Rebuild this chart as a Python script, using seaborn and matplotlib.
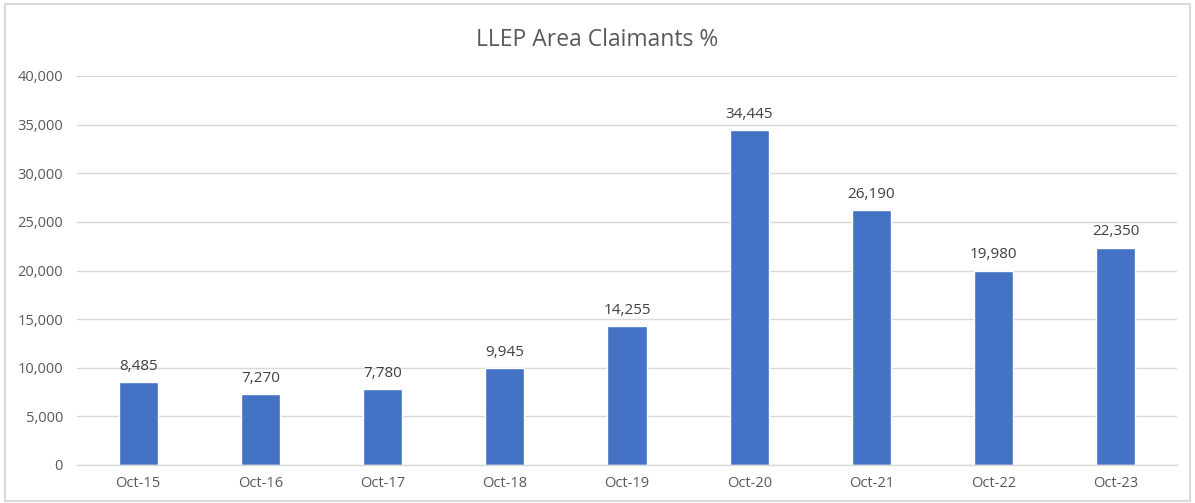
import matplotlib
matplotlib.use("Agg")
import matplotlib.pyplot as plt
import seaborn as sns
import pandas as pd
import numpy as np
from matplotlib.patches import Rectangle
from matplotlib.ticker import FuncFormatter, FixedLocator

categories = ["Oct-15", "Oct-16", "Oct-17", "Oct-18", "Oct-19", "Oct-20", "Oct-21", "Oct-22", "Oct-23"]
values = [8485, 7270, 7780, 9945, 14255, 34445, 26190, 19980, 22350]
title = "LLEP Area Claimants %"

sns.set_theme(style="white")
plt.rcParams['font.family'] = ['Open Sans', 'DejaVu Sans']

df = pd.DataFrame({"cat": categories, "val": values})

fig = plt.figure(figsize=(11.95, 5.03), dpi=100)
ax = fig.add_axes([77/1195, 1-465/503, (1177-77)/1195, (465-76)/503])

sns.barplot(data=df, x="cat", y="val", color="#4472C4", width=0.32, ax=ax, saturation=1)

ax.set_ylim(0, 40000)
ax.set_xlim(-0.5, len(categories)-0.5)
ax.set_yticks(np.arange(0, 40001, 5000))
ax.yaxis.set_major_formatter(FuncFormatter(lambda v, p: f"{v:,.0f}"))
ax.grid(axis="y", color="#D9D9D9", linewidth=1)
ax.set_axisbelow(True)
for s in ["top", "right", "left"]:
    ax.spines[s].set_visible(False)
ax.spines["bottom"].set_color("#D9D9D9")
ax.spines["bottom"].set_linewidth(1)

ax.tick_params(axis="y", length=0, labelsize=10.5, labelcolor="#595959", pad=10)
ax.tick_params(axis="x", which="major", length=0, labelsize=10.5, labelcolor="#595959", pad=8)
ax.xaxis.set_minor_locator(FixedLocator(np.arange(-0.5, len(categories), 1.0)))
ax.tick_params(axis="x", which="minor", length=5, color="#D9D9D9", width=1, direction="out")
ax.set_xlabel("")
ax.set_ylabel("")

ax.bar_label(ax.containers[0], labels=[f"{v:,}" for v in values], padding=6, fontsize=11, color="#404040")

fig.text(0.5, 1-40/503, title, ha="center", va="center", fontsize=16.5, color="#595959")

fig.patches.append(Rectangle((5/1195, 2/503), 1185/1195, 497/503, transform=fig.transFigure,
                             fill=False, edgecolor="#D9D9D9", linewidth=1.5))

fig.savefig("out.png", dpi=100)
